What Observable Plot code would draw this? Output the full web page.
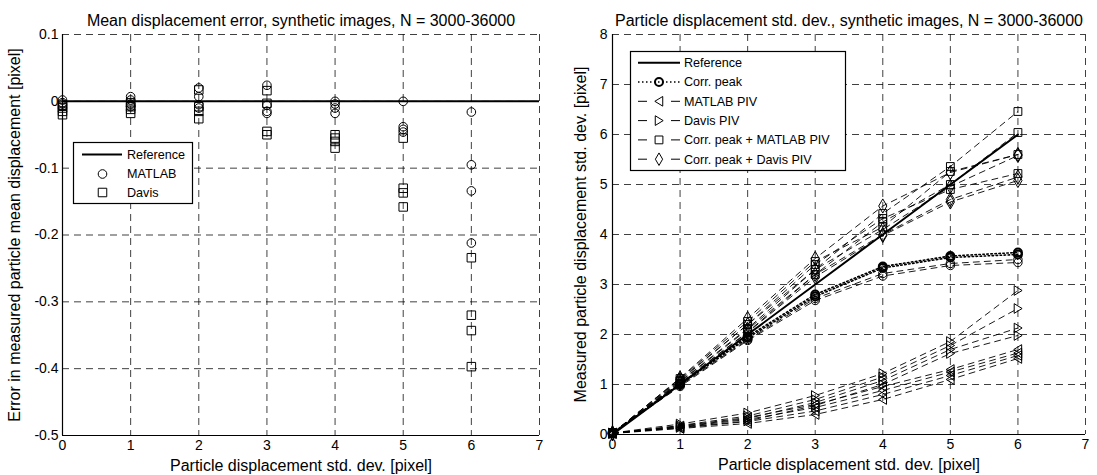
<!DOCTYPE html>
<html><head><meta charset="utf-8">
<script src="https://cdn.jsdelivr.net/npm/d3@7"></script>
<script src="https://cdn.jsdelivr.net/npm/@observablehq/plot@0.6"></script>
<style>
html,body{margin:0;padding:0;background:#fff;}
#wrap{position:relative;width:1097px;height:475px;overflow:hidden;background:#fff;}
#wrap > div.panel{position:absolute;top:0;}
#legendLayer{position:absolute;left:0;top:0;pointer-events:none;}
</style></head><body><div id="wrap"></div>
<script>
const FONT = '"Liberation Sans", Arial, Helvetica, sans-serif';

// ---------------- shared categories ----------------
const stdDev = [0, 1, 2, 3, 4, 5, 6];

// ---------------- left chart: mean displacement error ----------------
const leftTitle = "Mean displacement error, synthetic images, N = 3000-36000";
const leftYLabel = "Error in measured particle mean displacement [pixel]";
const xLabel = "Particle displacement std. dev. [pixel]";
const leftXTicks = [0, 1, 2, 3, 4, 5, 6, 7];
const leftYTicks = [-0.5, -0.4, -0.3, -0.2, -0.1, 0, 0.1];
// one row per std. dev. value, several image counts N each
const matlabMeanErr = [
  [0.002, -0.002, -0.004, -0.007],
  [0.007, 0.002, -0.004, -0.008],
  [0.020, 0.007, -0.005, -0.010],
  [0.024, -0.006, -0.015, -0.018],
  [0.000, -0.004, -0.010, -0.018],
  [0.000, -0.038, -0.042, -0.046],
  [-0.016, -0.095, -0.134, -0.212]
];
const davisMeanErr = [
  [-0.006, -0.010, -0.015, -0.020],
  [-0.002, -0.008, -0.012, -0.018],
  [0.017, -0.008, -0.015, -0.026],
  [0.016, -0.003, -0.045, -0.050],
  [-0.050, -0.055, -0.060, -0.070],
  [-0.055, -0.130, -0.137, -0.158],
  [-0.234, -0.320, -0.343, -0.397]
];
const leftLegend = ["Reference", "MATLAB", "Davis"];

// ---------------- right chart: measured std. dev. ----------------
const rightTitle = "Particle displacement std. dev., synthetic images, N = 3000-36000";
const rightYLabel = "Measured particle displacement std. dev. [pixel]";
const rightXTicks = [0, 1, 2, 3, 4, 5, 6, 7];
const rightYTicks = [0, 1, 2, 3, 4, 5, 6, 7, 8];
const referenceStd = [0, 1, 2, 3, 4, 5, 6];
const corrPeak = [
  [0.02, 1.02, 1.96, 2.80, 3.36, 3.57, 3.64],
  [0.03, 1.00, 1.93, 2.76, 3.33, 3.54, 3.60],
  [0.02, 0.98, 1.90, 2.72, 3.22, 3.42, 3.50],
  [0.03, 0.96, 1.88, 2.68, 3.17, 3.38, 3.44]
];
const matlabPiv = [
  [0.02, 0.12, 0.22, 0.40, 0.70, 1.10, 1.52],
  [0.03, 0.13, 0.26, 0.47, 0.80, 1.18, 1.58],
  [0.02, 0.15, 0.30, 0.54, 0.88, 1.25, 1.63],
  [0.03, 0.17, 0.34, 0.60, 0.96, 1.30, 1.70]
];
const davisPiv = [
  [0.02, 0.14, 0.27, 0.58, 1.00, 1.62, 1.98],
  [0.03, 0.16, 0.32, 0.64, 1.08, 1.70, 2.13],
  [0.02, 0.18, 0.37, 0.70, 1.15, 1.78, 2.52],
  [0.03, 0.21, 0.43, 0.78, 1.22, 1.86, 2.88]
];
const corrPeakMatlabPiv = [
  [0.02, 1.06, 2.12, 3.30, 4.42, 5.36, 6.46],
  [0.03, 1.03, 2.05, 3.20, 4.25, 5.00, 6.04],
  [0.02, 1.08, 2.20, 3.40, 4.32, 4.90, 5.22],
  [0.03, 1.12, 2.26, 3.46, 4.15, 5.26, 5.60]
];
const corrPeakDavisPiv = [
  [0.02, 1.13, 2.32, 3.52, 4.57, 5.24, 5.60],
  [0.03, 1.10, 2.20, 3.30, 4.10, 4.96, 5.58],
  [0.02, 1.05, 2.10, 3.20, 4.00, 4.70, 5.15],
  [0.03, 1.02, 2.04, 3.15, 3.98, 4.65, 5.08]
];
const rightLegend = ["Reference", "Corr. peak", "MATLAB PIV", "Davis PIV", "Corr. peak + MATLAB PIV", "Corr. peak + Davis PIV"];

// ---------------- helpers ----------------
const triLeft = {draw(ctx, size) {
  const r = Math.sqrt(size / Math.PI);
  ctx.moveTo(-r * 0.95, 0); ctx.lineTo(r * 0.85, -r * 1.1); ctx.lineTo(r * 0.85, r * 1.1); ctx.closePath();
}};
const triRight = {draw(ctx, size) {
  const r = Math.sqrt(size / Math.PI);
  ctx.moveTo(r * 0.95, 0); ctx.lineTo(-r * 0.85, -r * 1.1); ctx.lineTo(-r * 0.85, r * 1.1); ctx.closePath();
}};
const fmtTick = d => String(+d.toFixed(1));
const GRID = {stroke: "#000", strokeOpacity: 0.75, strokeWidth: 1, strokeDasharray: "7,5"};
const LINE_DASH = "6,5";
const LABEL_SIZE = 16;

function textMarks(title, ylabel, ylabelDx) {
  return [
    Plot.text([title], {frameAnchor: "top", dy: -14, fontSize: LABEL_SIZE, textAnchor: "middle", lineAnchor: "middle", fill: "#000"}),
    Plot.text([xLabel], {frameAnchor: "bottom", dy: 30, fontSize: LABEL_SIZE, textAnchor: "middle", lineAnchor: "middle", fill: "#000"}),
    Plot.text([ylabel], {frameAnchor: "left", dx: ylabelDx, rotate: -90, fontSize: LABEL_SIZE, textAnchor: "middle", lineAnchor: "middle", fill: "#000"})
  ];
}

const wrap = document.getElementById("wrap");

// ---------------- left plot ----------------
const leftRows = [];
stdDev.forEach((x, i) => {
  matlabMeanErr[i].forEach(v => leftRows.push({x, y: v, method: "MATLAB"}));
  davisMeanErr[i].forEach(v => leftRows.push({x, y: v, method: "Davis"}));
});

const leftPlot = Plot.plot({
  width: 548, height: 475,
  marginLeft: 62, marginRight: 9, marginTop: 34, marginBottom: 40,
  style: {fontFamily: FONT, fontSize: "14px", background: "transparent", color: "#000"},
  x: {domain: [0, 7], ticks: leftXTicks, tickFormat: fmtTick, tickSize: 0, tickPadding: 5, label: null},
  y: {domain: [-0.5, 0.1], ticks: leftYTicks, tickFormat: fmtTick, tickSize: 0, tickPadding: 4, label: null},
  marks: [
    Plot.gridX(leftXTicks, GRID),
    Plot.gridY(leftYTicks, GRID),
    Plot.ruleX([0], {stroke: "#000", strokeWidth: 1.2}),
    Plot.ruleY([-0.5], {stroke: "#000", strokeWidth: 1.2}),
    Plot.ruleY([0], {stroke: "#000", strokeWidth: 2}),
    Plot.dot(leftRows.filter(d => d.method === "MATLAB"), {x: "x", y: "y", symbol: "circle", r: 4.3, stroke: "#000", strokeWidth: 1, fill: "none"}),
    Plot.dot(leftRows.filter(d => d.method === "Davis"), {x: "x", y: "y", symbol: "square", r: 4.8, stroke: "#000", strokeWidth: 1, fill: "none"}),
    ...textMarks(leftTitle, leftYLabel, -48)
  ]
});
const lp = document.createElement("div"); lp.className = "panel"; lp.style.left = "0px";
lp.appendChild(leftPlot); wrap.appendChild(lp);

// ---------------- right plot ----------------
const groups = [
  {name: "Corr. peak", values: corrPeak, symbol: "circle"},
  {name: "MATLAB PIV", values: matlabPiv, symbol: triLeft},
  {name: "Davis PIV", values: davisPiv, symbol: triRight},
  {name: "Corr. peak + MATLAB PIV", values: corrPeakMatlabPiv, symbol: "square"},
  {name: "Corr. peak + Davis PIV", values: corrPeakDavisPiv, symbol: "diamond"}
];
const rightMarks = [
  Plot.gridX(rightXTicks, GRID),
  Plot.gridY(rightYTicks, GRID),
  Plot.ruleX([0], {stroke: "#000", strokeWidth: 1.2}),
  Plot.ruleY([0], {stroke: "#000", strokeWidth: 1.2})
];
groups.forEach((g, gi) => {
  const rows = [];
  g.values.forEach((arr, vi) => arr.forEach((v, i) => rows.push({x: stdDev[i], y: v, variant: vi})));
  if (gi === 0) {
    const bold = rows.filter(d => d.variant < 2), thin = rows.filter(d => d.variant >= 2);
    rightMarks.push(Plot.line(thin, {x: "x", y: "y", z: "variant", stroke: "#000", strokeWidth: 0.9, strokeDasharray: LINE_DASH}));
    rightMarks.push(Plot.dot(thin, {x: "x", y: "y", symbol: "circle", r: 4.2, stroke: "#000", strokeWidth: 1, fill: "none"}));
    rightMarks.push(Plot.line(bold, {x: "x", y: "y", z: "variant", stroke: "#000", strokeWidth: 1.6, strokeDasharray: "1.5,2.5"}));
    rightMarks.push(Plot.dot(bold, {x: "x", y: "y", symbol: "circle", r: 4, stroke: "#000", strokeWidth: 2, fill: "none"}));
  } else {
    rightMarks.push(Plot.line(rows, {x: "x", y: "y", z: "variant", stroke: "#000", strokeWidth: 0.9, strokeDasharray: LINE_DASH}));
    rightMarks.push(Plot.dot(rows, {x: "x", y: "y", symbol: g.symbol, r: g.symbol === "diamond" ? 4.3 : 4.4, stroke: "#000", strokeWidth: 1, fill: "none"}));
  }
});
rightMarks.push(Plot.line(referenceStd, {x: (d, i) => stdDev[i], y: d => d, stroke: "#000", strokeWidth: 2}));
rightMarks.push(...textMarks(rightTitle, rightYLabel, -32));

const rightPlot = Plot.plot({
  width: 549, height: 475,
  marginLeft: 64, marginRight: 12, marginTop: 34, marginBottom: 41,
  style: {fontFamily: FONT, fontSize: "14px", background: "transparent", color: "#000"},
  x: {domain: [0, 7], ticks: rightXTicks, tickFormat: fmtTick, tickSize: 0, tickPadding: 5, label: null},
  y: {domain: [0, 8], ticks: rightYTicks, tickFormat: fmtTick, tickSize: 0, tickPadding: 5, label: null},
  marks: rightMarks
});
const rp = document.createElement("div"); rp.className = "panel"; rp.style.left = "548px";
rp.appendChild(rightPlot); wrap.appendChild(rp);

// ---------------- legends (overlay) ----------------
const svg = d3.select(wrap).append("svg").attr("id", "legendLayer")
  .attr("width", 1097).attr("height", 475)
  .style("font-family", FONT).style("font-size", "12.6px");

function legendBox(x, y, w, h) {
  svg.append("rect").attr("x", x + 0.5).attr("y", y + 0.5).attr("width", w).attr("height", h)
    .attr("fill", "#fff").attr("stroke", "#000").attr("stroke-width", 1.2);
}
function legendText(x, y, t) {
  svg.append("text").attr("x", x).attr("y", y).attr("dy", "0.35em").attr("fill", "#000").text(t);
}
function marker(x, y, type, size, sw) {
  svg.append("path").attr("transform", `translate(${x},${y})`)
    .attr("d", d3.symbol().type(type).size(size)())
    .attr("fill", "none").attr("stroke", "#000").attr("stroke-width", sw);
}

// left legend
legendBox(73, 142, 119, 61);
const lly = [154.5, 174, 192.5];
svg.append("line").attr("x1", 82).attr("x2", 122).attr("y1", lly[0]).attr("y2", lly[0]).attr("stroke", "#000").attr("stroke-width", 2);
marker(102.5, lly[1], d3.symbolCircle, Math.PI * 4.3 * 4.3, 1);
marker(102.5, lly[2], d3.symbolSquare, Math.PI * 4.8 * 4.8, 1);
leftLegend.forEach((t, i) => legendText(127, lly[i], t));

// right legend
legendBox(630, 51, 215, 119);
const rly = [62.7, 82, 101.3, 120.6, 139.9, 159.2];
svg.append("line").attr("x1", 638).attr("x2", 680).attr("y1", rly[0]).attr("y2", rly[0]).attr("stroke", "#000").attr("stroke-width", 2);
svg.append("line").attr("x1", 638).attr("x2", 680).attr("y1", rly[1]).attr("y2", rly[1]).attr("stroke", "#000").attr("stroke-width", 1.6).attr("stroke-dasharray", "1.5,2.5");
marker(659, rly[1], d3.symbolCircle, Math.PI * 16, 2);
const legSyms = [triLeft, triRight, d3.symbolSquare, d3.symbolDiamond];
const legSizes = [4.4, 4.4, 4.4, 3.8];
legSyms.forEach((s, i) => {
  const y = rly[i + 2];
  svg.append("line").attr("x1", 638).attr("x2", 647).attr("y1", y).attr("y2", y).attr("stroke", "#000").attr("stroke-width", 1);
  svg.append("line").attr("x1", 671).attr("x2", 680).attr("y1", y).attr("y2", y).attr("stroke", "#000").attr("stroke-width", 1);
  marker(659, y, s, Math.PI * legSizes[i] * legSizes[i], 1);
});
rightLegend.forEach((t, i) => legendText(684, rly[i], t));
</script></body></html>
